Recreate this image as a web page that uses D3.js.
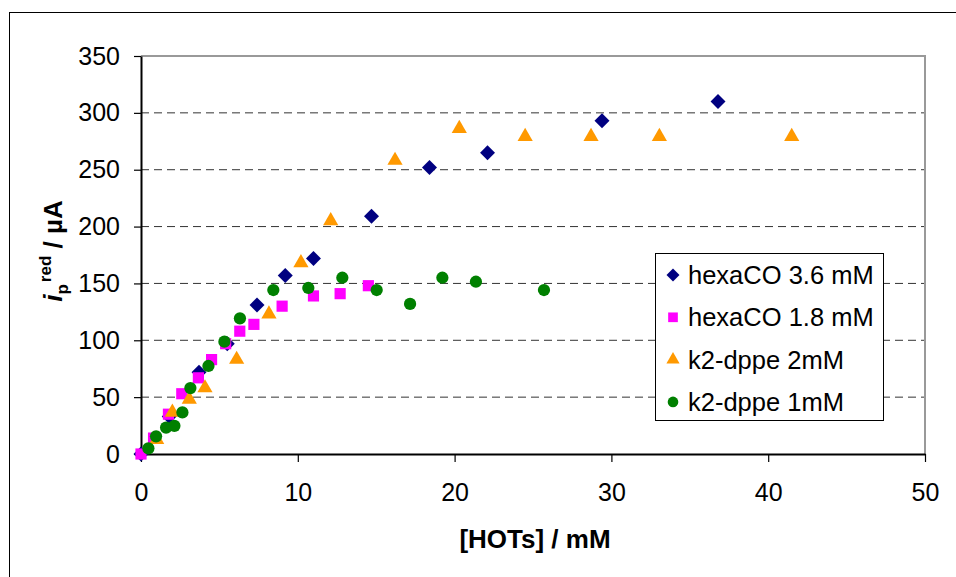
<!DOCTYPE html>
<html>
<head>
<meta charset="utf-8">
<script src="https://cdn.jsdelivr.net/npm/d3@7/dist/d3.min.js"></script>
<style>
  body { margin: 0; background: #fff; }
  svg text { font-family: "Liberation Sans", Arial, sans-serif; fill: #000; }
</style>
</head>
<body>
<div id="chart"></div>
<script>
// series data: [HOTs] (mM) and peak current (uA)
var hexa36X = [0, 1.8, 3.7, 5.5, 7.4, 9.2, 11.0, 14.7, 18.4, 22.1, 29.4, 36.8];
var hexa36Y = [0, 33, 72, 97, 131, 157, 172, 209, 252, 265, 293, 310];

var hexa18X = [0, 0.8, 1.75, 2.6, 3.66, 4.5, 5.4, 6.3, 7.2, 9.0, 11.0, 12.7, 14.5];
var hexa18Y = [0, 14, 35, 53, 67, 83, 97, 108, 114, 130, 139, 141, 148];

var dppe2X = [1.0, 2.0, 3.08, 4.08, 6.1, 8.16, 10.2, 12.1, 16.2, 20.3, 24.5, 28.7, 33.06, 41.5];
var dppe2Y = [13.5, 37.5, 49, 59, 84, 124, 169, 206, 259, 287, 280, 280, 280, 280];

var dppe1X = [0.47, 0.96, 1.6, 2.13, 2.64, 3.15, 4.3, 5.32, 6.31, 8.44, 10.67, 12.84, 15.03, 17.16, 19.22, 21.36, 25.7];
var dppe1Y = [5, 15.5, 23.2, 24.8, 36.6, 58, 77.4, 98.8, 119.3, 144.2, 146, 155, 144.2, 132, 155, 151.5, 144.2];

var seriesNames = ["hexaCO 3.6 mM", "hexaCO 1.8 mM", "k2-dppe 2mM", "k2-dppe 1mM"];
var seriesColors = ["#000080", "#ff00ff", "#ff9900", "#008000"];
var seriesShapes = ["diamond", "square", "triangle", "circle"];

var xTicks = [0, 10, 20, 30, 40, 50];
var yTicks = [0, 50, 100, 150, 200, 250, 300, 350];

var W = 956, H = 577;
var plot = { left: 141, right: 925, top: 56, bottom: 454 };

var svg = d3.select("#chart").append("svg")
    .attr("width", W)
    .attr("height", H);

// outer chart frame
svg.append("rect")
    .attr("x", 9.5).attr("y", 12.5)
    .attr("width", 960).attr("height", 600)
    .attr("fill", "none").attr("stroke", "#000").attr("stroke-width", 1);

var x = d3.scaleLinear().domain([0, 50]).range([plot.left, plot.right]);
var y = d3.scaleLinear().domain([0, 350]).range([plot.bottom, plot.top]);

// dashed gridlines
svg.append("g").selectAll("line")
    .data(yTicks.filter(function(d) { return d > 0 && d < 350; }))
    .enter().append("line")
    .attr("x1", plot.left).attr("x2", plot.right)
    .attr("y1", function(d) { return y(d); })
    .attr("y2", function(d) { return y(d); })
    .attr("stroke", "#333").attr("stroke-width", 1)
    .attr("stroke-dasharray", "8,5");

// plot area border (top and right in grey)
svg.append("path")
    .attr("d", "M" + plot.left + "," + plot.top + "H" + plot.right + "V" + plot.bottom)
    .attr("fill", "none").attr("stroke", "#999").attr("stroke-width", 2);

// axes
var xAxis = svg.append("g")
    .attr("transform", "translate(0," + plot.bottom + ")")
    .call(d3.axisBottom(x).tickValues(xTicks).tickSize(8).tickPadding(21).tickSizeOuter(0));
var yAxis = svg.append("g")
    .attr("transform", "translate(" + plot.left + ",0)")
    .call(d3.axisLeft(y).tickValues(yTicks).tickSize(7).tickPadding(14).tickSizeOuter(0));

[xAxis, yAxis].forEach(function(ax) {
    ax.select(".domain").attr("stroke", "#000").attr("stroke-width", 2);
    ax.selectAll(".tick line").attr("stroke", "#000").attr("stroke-width", 1.2);
    ax.selectAll(".tick text")
        .style("font-family", "'Liberation Sans', Arial, sans-serif")
        .style("font-size", "25px").attr("fill", "#000");
});

// markers (diamond drawn as a square turned 45 degrees, like Excel)
var squareDiamond = {
    draw: function(context, size) {
        var r = Math.sqrt(size / 2);
        context.moveTo(0, -r);
        context.lineTo(r, 0);
        context.lineTo(0, r);
        context.lineTo(-r, 0);
        context.closePath();
    }
};
function symbolFor(shape, size) {
    var t = { diamond: squareDiamond, square: d3.symbolSquare, triangle: d3.symbolTriangle, circle: d3.symbolCircle }[shape];
    return d3.symbol().type(t).size(size)();
}
var symbolSize = { diamond: 112, square: 125, triangle: 100, circle: 118 };

var allX = [hexa36X, hexa18X, dppe2X, dppe1X];
var allY = [hexa36Y, hexa18Y, dppe2Y, dppe1Y];

allX.forEach(function(xs, s) {
    var pts = xs.map(function(v, i) { return { x: v, y: allY[s][i] }; });
    svg.append("g").selectAll("path")
        .data(pts)
        .enter().append("path")
        .attr("d", symbolFor(seriesShapes[s], symbolSize[seriesShapes[s]]))
        .attr("transform", function(d) {
            var dy = seriesShapes[s] == "triangle" ? 1 : 0;
            return "translate(" + x(d.x) + "," + (y(d.y) + dy) + ")";
        })
        .attr("fill", seriesColors[s]);
});

// legend
var legend = svg.append("g");
legend.append("rect")
    .attr("x", 655.5).attr("y", 253.5)
    .attr("width", 228).attr("height", 167)
    .attr("fill", "#fff").attr("stroke", "#000").attr("stroke-width", 1);
seriesNames.forEach(function(name, i) {
    var ly = 275 + i * 42.3;
    legend.append("path")
        .attr("d", symbolFor(seriesShapes[i], symbolSize[seriesShapes[i]] * 0.75))
        .attr("transform", "translate(673," + ly + ")")
        .attr("fill", seriesColors[i]);
    legend.append("text")
        .attr("x", 688).attr("y", ly)
        .attr("dy", "0.36em")
        .style("font-size", "25.5px")
        .text(name);
});

// axis titles
svg.append("text")
    .attr("x", 535).attr("y", 548)
    .attr("text-anchor", "middle")
    .style("font-size", "26px").style("font-weight", "bold")
    .text("[HOTs] / mM");

var yt = svg.append("text")
    .attr("transform", "translate(62,251) rotate(-90)")
    .attr("text-anchor", "middle")
    .style("font-size", "26px").style("font-weight", "bold");
yt.append("tspan").style("font-style", "italic").text("i");
yt.append("tspan").attr("dy", 6).style("font-size", "17px").text("p");
yt.append("tspan").attr("dy", -17).attr("dx", 2).style("font-size", "17px").text("red");
yt.append("tspan").attr("dy", 11).text(" / \u00b5A");
</script>
</body>
</html>
